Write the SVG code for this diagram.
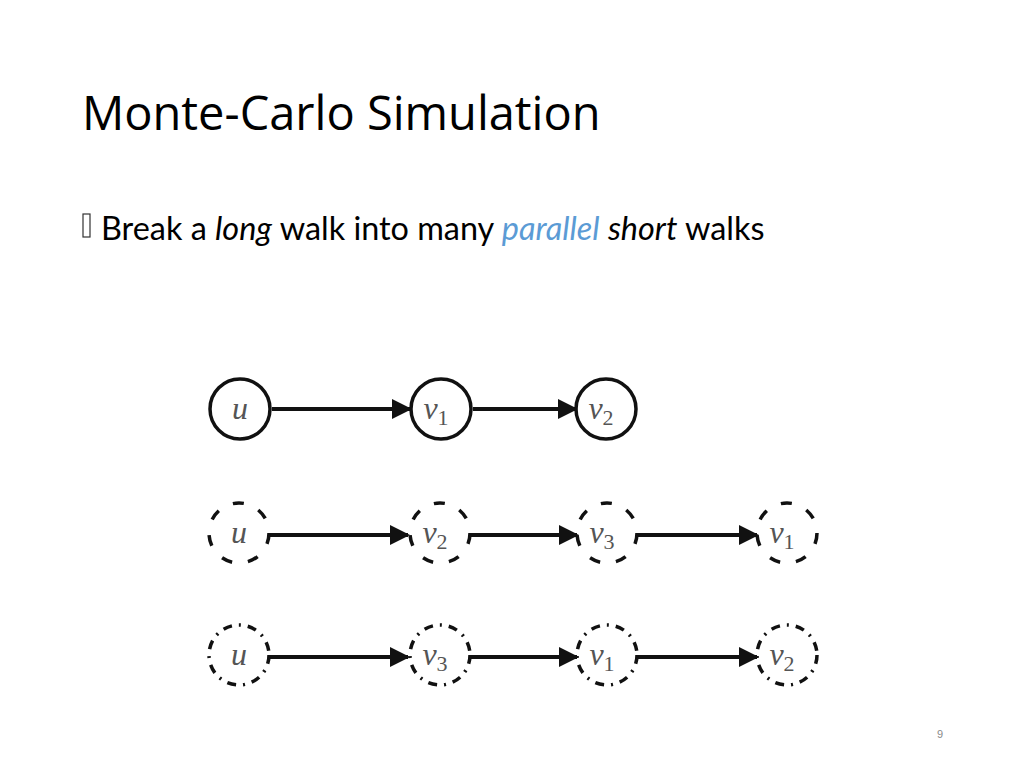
<svg xmlns="http://www.w3.org/2000/svg" width="1024" height="768" viewBox="0 0 1024 768">
<defs>
<marker id="ah" viewBox="0 0 10 10" refX="9" refY="5" markerWidth="5" markerHeight="5" markerUnits="strokeWidth" orient="auto">
<path d="M0,0 L10,5 L0,10 z" fill="#111"/>
</marker>
<style>
.title{font-family:"Open Sans","Noto Sans",sans-serif;font-size:47px;fill:#000}
.body{font-family:Lato,"Liberation Sans",sans-serif;font-size:32.4px;fill:#000}
.solid{fill:none;stroke:#111;stroke-width:3.5}
.dash{fill:none;stroke:#111;stroke-width:3.5;stroke-dasharray:11 16}
.dot{fill:none;stroke:#111;stroke-width:3.5;stroke-dasharray:9 7 2 7}
.lbl{font-family:"Liberation Serif","DejaVu Serif",serif;font-style:italic;font-size:32px;fill:#555;text-anchor:middle}
.sub{font-family:"Liberation Serif","DejaVu Serif",serif;font-style:normal;font-size:22px;fill:#555}
.edge{stroke:#111;stroke-width:4;fill:none;marker-end:url(#ah)}
.pg{font-family:"Liberation Sans",sans-serif;font-size:11px;fill:#8a8a8a}
</style>
</defs>
<rect width="1024" height="768" fill="#fff"/>
<text class="title" x="82" y="130">Monte-Carlo Simulation</text>
<rect x="83" y="214" width="7" height="23" fill="none" stroke="#333" stroke-width="1.2"/>
<text class="body" x="101" y="240">Break a <tspan font-style="italic">long</tspan> walk into many <tspan font-style="italic" fill="#5b9bd5">parallel</tspan> <tspan font-style="italic">short</tspan> walks</text>

<g id="connectors">
<line class="edge" x1="272" y1="409" x2="410" y2="409"/>
<line class="edge" x1="473" y1="409" x2="576" y2="409"/>
<line class="edge" x1="270" y1="535" x2="408" y2="535"/>
<line class="edge" x1="471" y1="535" x2="577" y2="535"/>
<line class="edge" x1="638" y1="535" x2="757" y2="535"/>
<line class="edge" x1="270" y1="657" x2="408" y2="657"/>
<line class="edge" x1="471" y1="657" x2="577" y2="657"/>
<line class="edge" x1="638" y1="657" x2="757" y2="657"/>
</g>

<g id="r1-u"><circle class="solid" cx="240" cy="409" r="30"/><text class="lbl" x="240" y="419">u</text></g>
<g id="r1-v1"><circle class="solid" cx="441" cy="409" r="30"/><text class="lbl" x="436" y="419">v<tspan class="sub" dy="6">1</tspan></text></g>
<g id="r1-v2"><circle class="solid" cx="606" cy="409" r="30"/><text class="lbl" x="601" y="419">v<tspan class="sub" dy="6">2</tspan></text></g>

<g id="r2-u"><circle class="dash" cx="239" cy="533" r="30"/><text class="lbl" x="239" y="543">u</text></g>
<g id="r2-v2"><circle class="dash" cx="440" cy="533" r="30"/><text class="lbl" x="435" y="543">v<tspan class="sub" dy="6">2</tspan></text></g>
<g id="r2-v3"><circle class="dash" cx="607" cy="533" r="30"/><text class="lbl" x="602" y="543">v<tspan class="sub" dy="6">3</tspan></text></g>
<g id="r2-v1"><circle class="dash" cx="787" cy="533" r="30"/><text class="lbl" x="782" y="543">v<tspan class="sub" dy="6">1</tspan></text></g>

<g id="r3-u"><circle class="dot" cx="239" cy="655" r="30"/><text class="lbl" x="239" y="665">u</text></g>
<g id="r3-v3"><circle class="dot" cx="440" cy="655" r="30"/><text class="lbl" x="435" y="665">v<tspan class="sub" dy="6">3</tspan></text></g>
<g id="r3-v1"><circle class="dot" cx="607" cy="655" r="30"/><text class="lbl" x="602" y="665">v<tspan class="sub" dy="6">1</tspan></text></g>
<g id="r3-v2"><circle class="dot" cx="787" cy="655" r="30"/><text class="lbl" x="782" y="665">v<tspan class="sub" dy="6">2</tspan></text></g>

<text class="pg" x="937" y="738">9</text>
</svg>
